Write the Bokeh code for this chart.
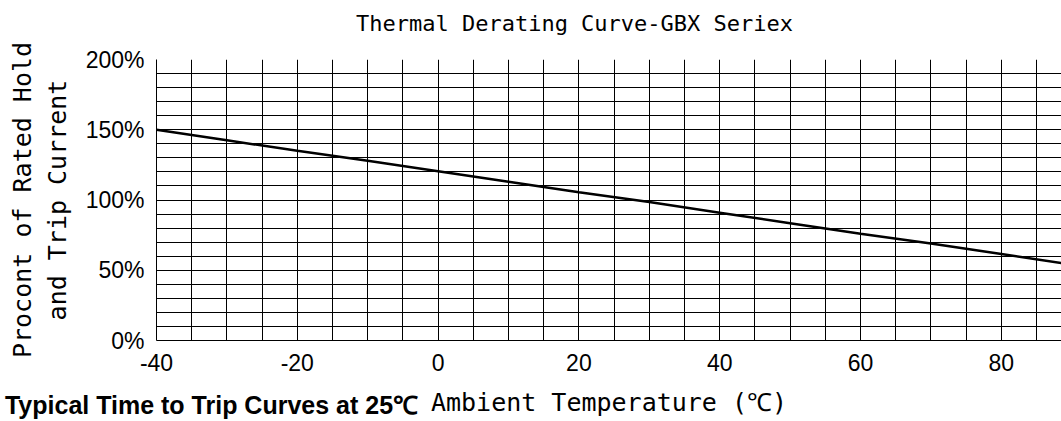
from bokeh.plotting import figure
from bokeh.models import FixedTicker, PrintfTickFormatter, Range1d, LinearAxis
from bokeh.embed import file_html
from bokeh.resources import INLINE

# ---- data ----
temps = [-40, -30, -20, -10, 0, 10, 20, 30, 40, 50, 60, 70, 80, 90]
percent = [150, 142.5, 135, 128, 120.5, 113, 105.5, 98.5, 91, 83.5, 76, 69, 61.5, 54]

x_major = [-40, -20, 0, 20, 40, 60, 80]
y_major = [0, 50, 100, 150, 200]
x_grid = list(range(-40, 90, 5))
y_grid = list(range(0, 201, 10))

title_text = "Thermal Derating Curve-GBX Seriex"
x_title = "Ambient Temperature (℃)"
y_title = "Procont of Rated Hold\nand Trip Current"
note_text = "Typical Time to Trip Curves at 25℃"

MONO = "DejaVu Sans Mono"
SANS = "Liberation Sans"

W, H = 1061, 421
LEFT, TOP, BOTTOM = 156, 59, 81
X0, X1 = -40, 88.55

p = figure(width=W, height=H,
           x_range=Range1d(X0, X1), y_range=Range1d(0, 200),
           output_backend="svg", toolbar_location=None,
           min_border_left=LEFT, min_border_right=0,
           min_border_top=TOP, min_border_bottom=BOTTOM)

p.background_fill_color = "white"
p.border_fill_color = "white"
p.outline_line_color = None

xax = p.below[0]
yax = p.left[0]

# grid
p.xgrid.ticker = FixedTicker(ticks=x_grid)
p.ygrid.ticker = FixedTicker(ticks=y_grid)
for g in (p.xgrid, p.ygrid):
    g.grid_line_color = "black"
    g.grid_line_alpha = 1.0
    g.grid_line_width = 1

# main axes
xax.ticker = FixedTicker(ticks=x_major)
xax.formatter = PrintfTickFormatter(format="%d")
yax.ticker = FixedTicker(ticks=y_major)
yax.formatter = PrintfTickFormatter(format="%d%%")
for ax in (xax, yax):
    ax.axis_line_color = "black"
    ax.axis_line_width = 1
    ax.major_tick_line_color = None
    ax.minor_tick_line_color = None
    ax.major_tick_out = 0
    ax.major_tick_in = 0
    ax.minor_tick_out = 0
    ax.major_label_text_font = SANS
    ax.major_label_text_font_size = "23px"
    ax.major_label_text_color = "black"
    ax.axis_label_text_font = MONO
    ax.axis_label_text_font_size = "25px"
    ax.axis_label_text_font_style = "normal"
    ax.axis_label_text_color = "black"

xax.axis_label = x_title
xax.major_label_standoff = 13
xax.axis_label_standoff = 14

yax.axis_label = y_title
yax.major_label_standoff = 12
yax.axis_label_standoff = 11
yax.axis_label_text_line_height = 1.2

# curve
p.line(temps, percent, line_color="black", line_width=2.5)

px_per_unit = (W - LEFT) / (X1 - X0)

def bare_axis(center, text, font, size, style, standoff):
    a = LinearAxis(ticker=FixedTicker(ticks=[center]),
                   major_label_overrides={center: text})
    a.axis_line_color = None
    a.major_tick_line_color = None
    a.minor_tick_line_color = None
    a.major_tick_out = 0
    a.major_tick_in = 0
    a.minor_tick_out = 0
    a.major_label_text_font = font
    a.major_label_text_font_style = style
    a.major_label_text_font_size = size
    a.major_label_text_color = "black"
    a.major_label_standoff = standoff
    return a

# chart title, placed above the frame (left part of the width)
title_center = X0 + (574 - LEFT) / px_per_unit
p.add_layout(bare_axis(title_center, title_text, MONO, "22px", "normal", 24), "above")

# heading of the next section (bottom-left), on the x-title row
note_center = X0 + (211 - LEFT) / px_per_unit
p.add_layout(bare_axis(note_center, note_text, SANS, "25px", "bold", -29), "below")

open("out.html", "w").write(file_html(p, INLINE))
